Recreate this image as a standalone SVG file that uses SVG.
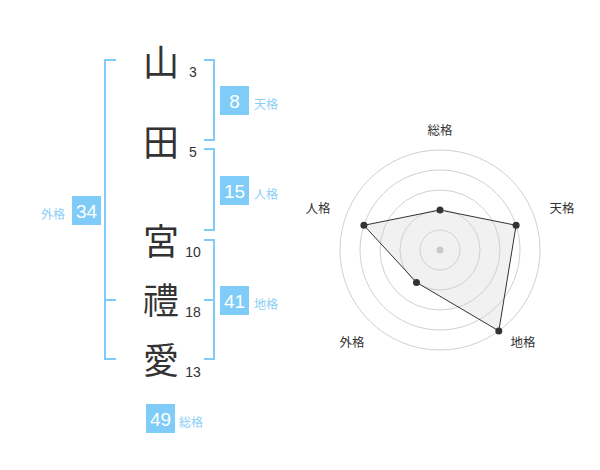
<svg xmlns="http://www.w3.org/2000/svg" width="600" height="470" viewBox="0 0 600 470">
<style>
.kanji{font-family:"Noto Sans CJK JP","Noto Sans",sans-serif;font-size:36px;fill:#333;text-anchor:middle}
.num{font-family:"Liberation Sans",Arial,sans-serif;font-size:14px;fill:#333;text-anchor:middle}
.box{fill:#80ccf8}
.boxnum{font-family:"Liberation Sans",Arial,sans-serif;font-size:19px;fill:#fff;text-anchor:middle}
.lab{font-family:"Noto Sans CJK JP","Noto Sans",sans-serif;font-size:12px;fill:#8ccff5}
.br{fill:none;stroke:#80ccf8;stroke-width:2}
.ring{fill:none;stroke:#d0d0d0;stroke-width:1}
.rlab{font-family:"Noto Sans CJK JP","Noto Sans",sans-serif;font-size:12.5px;fill:#333;text-anchor:middle}
.pt{fill:#333}
</style>
<rect width="600" height="470" fill="#fff"/>
<g id="chars">
<text class="kanji" x="161" y="76">山</text>
<text class="kanji" x="161" y="156">田</text>
<text class="kanji" x="161" y="255">宮</text>
<text class="kanji" x="161" y="314">禮</text>
<text class="kanji" x="161" y="374">愛</text>
<text class="num" x="193" y="77">3</text>
<text class="num" x="193" y="157">5</text>
<text class="num" x="193" y="257">10</text>
<text class="num" x="193" y="317">18</text>
<text class="num" x="193" y="377">13</text>
</g>
<g id="connectors">
<path class="br" d="M116,60 H105 V359 H116 M105,300 H116"/>
<path class="br" d="M204,60 H214 V140 H204"/>
<path class="br" d="M204,149 H214 V230 H204"/>
<path class="br" d="M204,240 H214 V359 H204 M204,300 H214"/>
</g>
<g id="tenkaku">
<rect class="box" x="220" y="86" width="29" height="29"/>
<text class="boxnum" x="234.5" y="107.5">8</text>
<text class="lab" x="254" y="108.5">天格</text>
</g>
<g id="jinkaku">
<rect class="box" x="220" y="176" width="29" height="29"/>
<text class="boxnum" x="234.5" y="197.5">15</text>
<text class="lab" x="254" y="198.5">人格</text>
</g>
<g id="chikaku">
<rect class="box" x="220" y="286" width="29" height="29"/>
<text class="boxnum" x="234.5" y="307.5">41</text>
<text class="lab" x="254" y="308.5">地格</text>
</g>
<g id="gaikaku">
<rect class="box" x="72" y="196" width="29" height="29"/>
<text class="boxnum" x="86.5" y="217.5">34</text>
<text class="lab" x="41" y="218.5">外格</text>
</g>
<g id="soukaku">
<rect class="box" x="146" y="404" width="29" height="29"/>
<text class="boxnum" x="160.5" y="425.5">49</text>
<text class="lab" x="179" y="426.5">総格</text>
</g>
<g id="radar">
<polygon points="440,210 516.1,225.3 498.8,330.9 416.5,282.4 363.9,225.3" fill="#e6e6e6" fill-opacity="0.55" stroke="none"/>
<circle class="ring" cx="440" cy="250" r="20"/>
<circle class="ring" cx="440" cy="250" r="40"/>
<circle class="ring" cx="440" cy="250" r="60"/>
<circle class="ring" cx="440" cy="250" r="80"/>
<circle class="ring" cx="440" cy="250" r="100"/>
<polygon points="440,210 516.1,225.3 498.8,330.9 416.5,282.4 363.9,225.3" fill="none" stroke="#333" stroke-width="1"/>
<circle cx="440" cy="250" r="3.5" fill="#c8c8c8"/>
<circle class="pt" cx="440" cy="210" r="3.5"/>
<circle class="pt" cx="516.1" cy="225.3" r="3.5"/>
<circle class="pt" cx="498.8" cy="330.9" r="3.5"/>
<circle class="pt" cx="416.5" cy="282.4" r="3.5"/>
<circle class="pt" cx="363.9" cy="225.3" r="3.5"/>
<text class="rlab" x="440" y="134.5">総格</text>
<text class="rlab" x="562" y="212.5">天格</text>
<text class="rlab" x="523" y="346.5">地格</text>
<text class="rlab" x="352" y="346.5">外格</text>
<text class="rlab" x="318" y="212.5">人格</text>
</g>
</svg>
